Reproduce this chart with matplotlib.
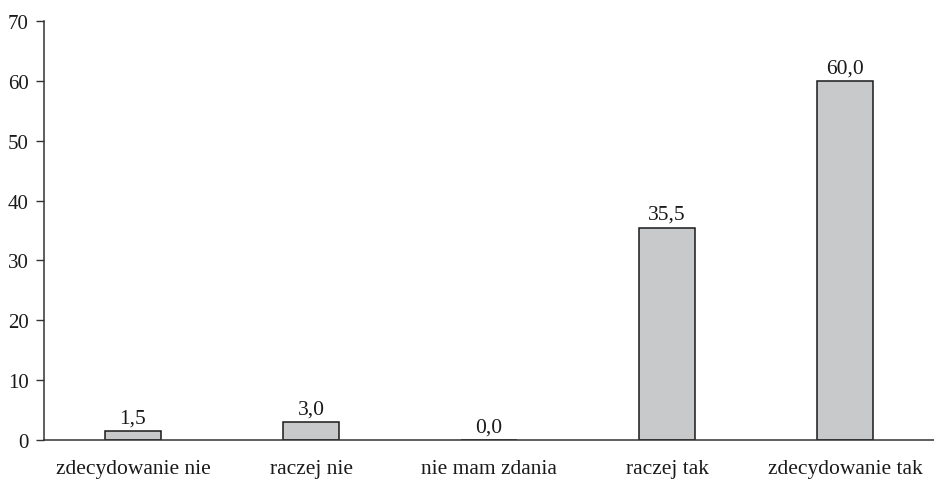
import matplotlib
matplotlib.use("Agg")
import matplotlib.pyplot as plt

categories = ["zdecydowanie nie", "raczej nie", "nie mam zdania", "raczej tak", "zdecydowanie tak"]
values = [1.5, 3.0, 0.0, 35.5, 60.0]
yticks = [0, 10, 20, 30, 40, 50, 60, 70]

plt.rcParams["font.family"] = ["Liberation Serif", "DejaVu Serif"]

fig = plt.figure(figsize=(9.34, 4.81), dpi=100)
ax = fig.add_axes([44 / 934, 40 / 481, 1 - 44 / 934, 419 / 481])

x = list(range(len(categories)))
bars = ax.bar(x, values, width=0.32, color="#c8c9cb", edgecolor="#1a1a1a", linewidth=1.1, zorder=2)

for xi, v in zip(x, values):
    ax.text(xi, v + 0.6, f"{v:.1f}".replace(".", ","), ha="center", va="bottom",
            fontsize=15.5, color="#1a1a1a")

ax.set_xlim(-0.5, 4.5)
ax.set_ylim(0, 70)
ax.set_yticks(yticks)
ax.set_yticklabels([str(t) for t in yticks], fontsize=15, color="#1a1a1a")
ax.set_xticks(x)
ax.set_xticklabels(categories, fontsize=15.5, color="#1a1a1a")
ax.tick_params(axis="x", length=0, pad=14)
ax.tick_params(axis="y", length=6, width=1, color="#333333", pad=5)

for side in ("top", "right"):
    ax.spines[side].set_visible(False)
for side in ("left", "bottom"):
    ax.spines[side].set_color("#333333")
    ax.spines[side].set_linewidth(1.1)

fig.savefig("out.png", dpi=100)
